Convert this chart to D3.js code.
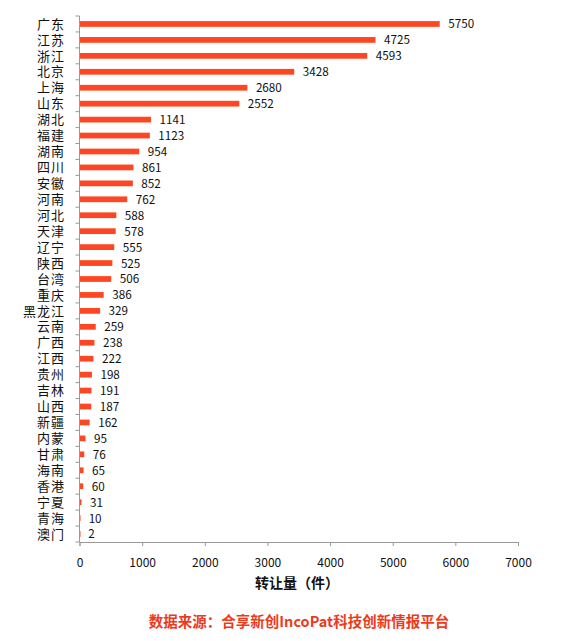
<!DOCTYPE html>
<html lang="zh">
<head>
<meta charset="utf-8">
<title>转让量</title>
<script src="https://cdn.jsdelivr.net/npm/d3@7"></script>
<style>
  body { margin: 0; background: #fff; }
  text { font-family: "Noto Sans CJK SC", "DejaVu Sans", sans-serif; }
</style>
</head>
<body>
<script>
  var w = 582, h = 641;

  var provinces = ["广东","江苏","浙江","北京","上海","山东","湖北","福建","湖南","四川","安徽","河南","河北","天津","辽宁","陕西","台湾","重庆","黑龙江","云南","广西","江西","贵州","吉林","山西","新疆","内蒙","甘肃","海南","香港","宁夏","青海","澳门"];
  var counts = [5750,4725,4593,3428,2680,2552,1141,1123,954,861,852,762,588,578,555,525,506,386,329,259,238,222,198,191,187,162,95,76,65,60,31,10,2];
  var xTicks = [0,1000,2000,3000,4000,5000,6000,7000];
  var axisTitle = "转让量（件）";
  var source = "数据来源：合享新创IncoPat科技创新情报平台";

  // plot box (note: "top" is taken by window.top, so use plotTop)
  var plotLeft = 79.5, plotRight = 518, plotTop = 16, plotBottom = 542;

  var svg = d3.select("body").append("svg")
              .attr("width", w)
              .attr("height", h);

  var x = d3.scaleLinear().domain([0, 7000]).range([plotLeft, plotRight]);
  var y = d3.scaleBand().domain(provinces).range([plotTop, plotBottom]).paddingInner(0.64).paddingOuter(0.32);

  // bars
  svg.selectAll("rect.bar")
     .data(counts)
     .enter()
     .append("rect")
     .attr("class", "bar")
     .attr("x", x(0))
     .attr("y", function(d, i) { return y(provinces[i]); })
     .attr("width", function(d) { return Math.max(1, x(d) - x(0)); })
     .attr("height", y.bandwidth())
     .attr("fill", "#ff4622");

  // value labels
  svg.selectAll("text.val")
     .data(counts)
     .enter()
     .append("text")
     .attr("class", "val")
     .attr("x", function(d) { return x(d) + 8.5; })
     .attr("y", function(d, i) { return y(provinces[i]) + y.bandwidth() / 2; })
     .attr("dy", "0.38em")
     .attr("font-size", 11.7)
     .attr("font-family", "\"DejaVu Sans\", sans-serif")
     .attr("fill", "#111")
     .text(function(d) { return d; });

  // y axis: line + ticks between categories
  var yTickPos = d3.range(provinces.length + 1).map(function(i) { return plotTop + i * (plotBottom - plotTop) / provinces.length; });
  svg.append("line")
     .attr("x1", plotLeft).attr("x2", plotLeft)
     .attr("y1", plotTop).attr("y2", plotBottom)
     .attr("stroke", "#999");
  svg.selectAll("line.ytick")
     .data(yTickPos)
     .enter()
     .append("line")
     .attr("class", "ytick")
     .attr("x1", plotLeft - 4).attr("x2", plotLeft)
     .attr("y1", function(d) { return d; })
     .attr("y2", function(d) { return d; })
     .attr("stroke", "#999");

  svg.selectAll("text.cat")
     .data(provinces)
     .enter()
     .append("text")
     .attr("class", "cat")
     .attr("x", 65)
     .attr("y", function(d) { return y(d) + y.bandwidth() / 2; })
     .attr("dy", "0.36em")
     .attr("text-anchor", "end")
     .attr("font-size", 13)
     .attr("letter-spacing", 1)
     .attr("fill", "#111")
     .text(function(d) { return d; });

  // x axis
  var xAxis = svg.append("g")
     .attr("transform", "translate(0," + plotBottom + ")")
     .call(d3.axisBottom(x).tickValues(xTicks).tickSize(4).tickPadding(12).tickFormat(d3.format("d")));
  xAxis.select(".domain").attr("stroke", "#999");
  xAxis.selectAll(".tick line").attr("stroke", "#999");
  xAxis.selectAll(".tick text")
       .attr("font-size", 12)
       .attr("fill", "#111")
       .attr("font-family", "\"DejaVu Sans\", sans-serif");

  svg.append("text")
     .attr("x", 297)
     .attr("y", 583)
     .attr("dy", "0.36em")
     .attr("text-anchor", "middle")
     .attr("font-size", 14)
     .attr("font-weight", "bold")
     .attr("fill", "#111")
     .text(axisTitle);

  svg.append("text")
     .attr("x", 299)
     .attr("y", 622)
     .attr("dy", "0.36em")
     .attr("text-anchor", "middle")
     .attr("font-size", 14.5)
     .attr("font-weight", "bold")
     .attr("fill", "#ee3a1c")
     .text(source);
</script>
</body>
</html>
